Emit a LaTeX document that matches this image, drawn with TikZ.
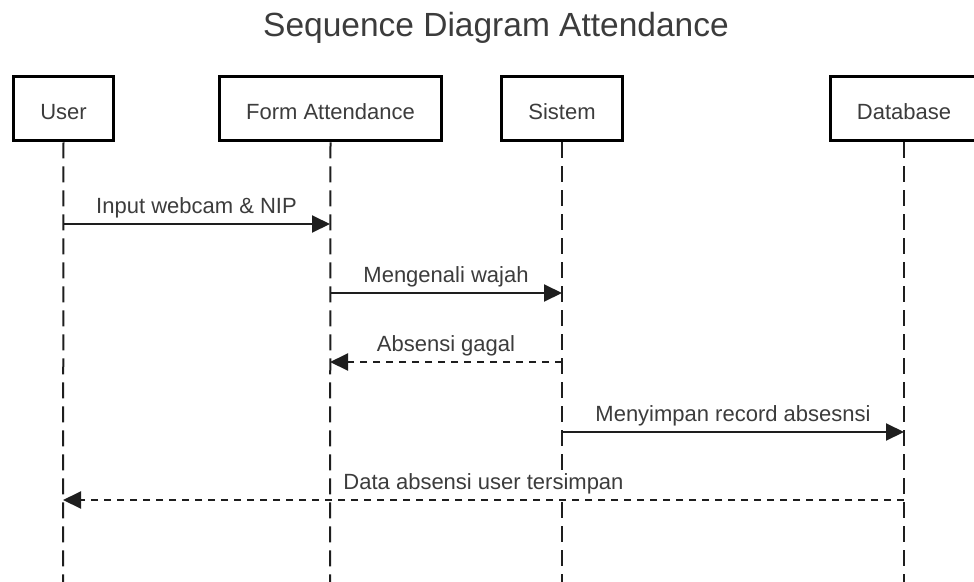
\documentclass[tikz,border=0pt]{standalone}
\usepackage{fontspec}
\setmainfont{Liberation Sans}
\usetikzlibrary{arrows.meta}
\definecolor{txt}{HTML}{3C3C3C}
\definecolor{ln}{HTML}{1E1E1E}
\begin{document}
\begin{tikzpicture}[x=1pt,y=-1pt,
  actor/.style={draw=black, line width=3.5pt, fill=white, minimum height=64pt, inner sep=0pt,
    text height=21pt, text depth=0pt,
    text=txt, font=\fontsize{22}{26}\selectfont},
  life/.style={draw=ln, line width=2pt, dash pattern=on 16pt off 8pt},
  msg/.style={draw=ln, line width=2pt, -{Triangle[length=18pt,width=17pt]}},
  ret/.style={msg, dash pattern=on 7pt off 6pt},
  lbl/.style={midway, anchor=base, yshift=11pt, text=txt, fill=white, font=\fontsize{22}{26}\selectfont, inner sep=1pt},
]
\useasboundingbox (0,0) rectangle (974,581);
\clip (0,0) rectangle (974,581);
\fill[white] (0,0) rectangle (974,581);

\node[anchor=base, text=txt, font=\fontsize{33.5}{40}\selectfont] (title) at (496,36) {Sequence Diagram Attendance};

% lifeline bottoms
\coordinate (ub) at (63,590);
\coordinate (fb) at (330,590);
\coordinate (sb) at (562,590);
\coordinate (dbb) at (904,590);

\node[actor, minimum width=100pt] (user) at (63.5,108.5) {User};
\node[actor, minimum width=222pt] (form) at (330.5,108.5) {Form Attendance};
\node[actor, minimum width=121pt] (sistem) at (562,108.5) {Sistem};
\node[actor, minimum width=147pt] (db) at (904,108.5) {Database};

% lifelines
\draw[life] (user.south) -- (ub);
\draw[life] (form.south) -- (fb);
\draw[life] (sistem.south) -- (sb);
\draw[life] (db.south) -- (dbb);

% message points
\coordinate (u1) at (63,224);  \coordinate (f1) at (330,224);
\coordinate (f2) at (330,293); \coordinate (s2) at (562,293);
\coordinate (s3) at (562,362); \coordinate (f3) at (330,362);
\coordinate (s4) at (562,432); \coordinate (d4) at (904,432);
\coordinate (d5) at (904,500); \coordinate (u5) at (63,500);

\draw[msg] (u1) -- node[lbl]{Input webcam \& NIP} (f1);
\draw[msg] (f2) -- node[lbl]{Mengenali wajah} (s2);
\draw[ret] (s3) -- node[lbl]{Absensi gagal} (f3);
\draw[msg] (s4) -- node[lbl]{Menyimpan record absesnsi} (d4);
\draw[ret] (d5) -- node[lbl]{Data absensi user tersimpan} (u5);
\end{tikzpicture}
\end{document}
